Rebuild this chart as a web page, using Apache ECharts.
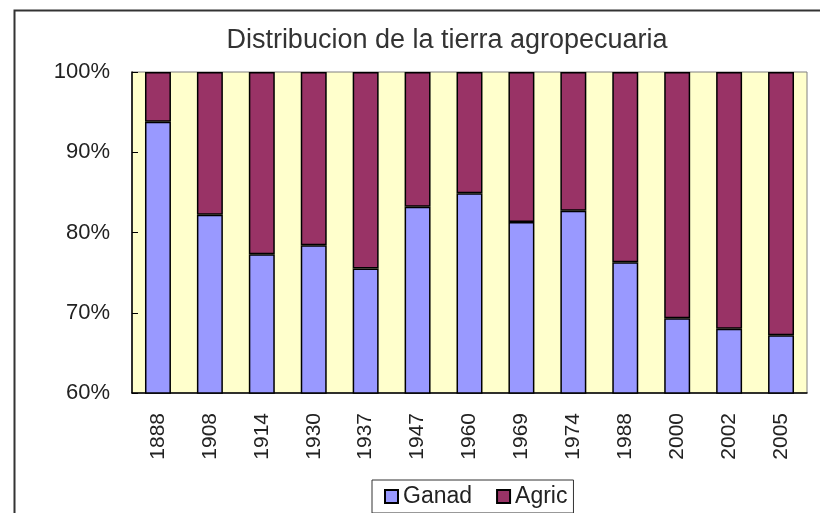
<!DOCTYPE html>
<html>
<head>
<meta charset="utf-8">
<script src="https://cdn.jsdelivr.net/npm/echarts@6/dist/echarts.min.js"></script>
<style>
  html, body { margin: 0; padding: 0; background: #fff; }
  #chart { width: 820px; height: 513px; }
</style>
</head>
<body>
<div id="chart"></div>
<script>
// datos
var years = ['1888', '1908', '1914', '1930', '1937', '1947', '1960', '1969', '1974', '1988', '2000', '2002', '2005'];
var ganad = [93.8, 82.2, 77.3, 78.4, 75.5, 83.2, 84.9, 81.3, 82.7, 76.3, 69.3, 68.0, 67.2];
var agric = [6.2, 17.8, 22.7, 21.6, 24.5, 16.8, 15.1, 18.7, 17.3, 23.7, 30.7, 32.0, 32.8];

var font = 'Liberation Sans, Arial, sans-serif';

var myChart = echarts.init(document.getElementById('chart'));

var option = {
    animation: false,
    backgroundColor: '#fff',
    textStyle: { fontFamily: font },
    title: {
        text: 'Distribucion de la tierra agropecuaria',
        left: 442,
        top: 22,
        textAlign: 'center',
        textStyle: { fontFamily: font, fontSize: 27, fontWeight: 'normal', color: '#333' }
    },
    // marco exterior del grafico
    graphic: [{
        type: 'rect',
        left: 12,
        top: 8,
        shape: { width: 830, height: 540 },
        style: { fill: 'none', stroke: '#333', lineWidth: 2 },
        silent: true
    }],
    legend: {
        left: 372,
        top: 480,
        padding: [5, 6, 5, 12],
        itemWidth: 13,
        itemHeight: 13,
        itemGap: 24,
        icon: 'rect',
        borderColor: '#333',
        borderWidth: 1,
        backgroundColor: '#fff',
        data: ['Ganad', 'Agric'],
        textStyle: { fontFamily: font, fontSize: 23, color: '#222' }
    },
    grid: {
        left: 132,
        right: 13,
        top: 72,
        bottom: 120,
        show: true,
        backgroundColor: '#FFFFCC',
        borderColor: '#808080',
        borderWidth: 1
    },
    xAxis: {
        type: 'category',
        data: years,
        axisLine: { lineStyle: { color: '#000', width: 1.5 } },
        axisTick: { inside: true, length: 5, lineStyle: { color: '#333' } },
        axisLabel: {
            rotate: 90,
            margin: 20,
            fontFamily: font,
            fontSize: 21,
            color: '#222'
        }
    },
    yAxis: {
        type: 'value',
        min: 60,
        max: 100,
        interval: 10,
        axisLine: { show: true, lineStyle: { color: '#000', width: 1.5 } },
        axisTick: { show: true, inside: true, length: 6, lineStyle: { color: '#000' } },
        splitLine: { show: false },
        axisLabel: {
            formatter: '{value}%',
            margin: 22,
            fontFamily: font,
            fontSize: 22,
            color: '#222'
        }
    },
    series: [{
        name: 'Ganad',
        type: 'bar',
        stack: 'total',
        barWidth: '50%',
        itemStyle: { color: '#9999FF', borderColor: '#000', borderWidth: 1.5 },
        data: ganad
    }, {
        name: 'Agric',
        type: 'bar',
        stack: 'total',
        barWidth: '50%',
        itemStyle: { color: '#993366', borderColor: '#000', borderWidth: 1.5 },
        data: agric
    }]
};

myChart.setOption(option);
</script>
</body>
</html>
